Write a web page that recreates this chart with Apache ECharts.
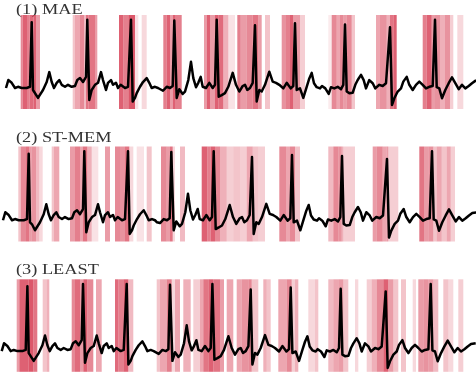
<!DOCTYPE html>
<html>
<head>
<meta charset="utf-8">
<script src="https://cdn.jsdelivr.net/npm/echarts@6/dist/echarts.min.js"></script>
<style>html,body{margin:0;padding:0;background:#fff}#c{width:476px;height:377px}</style>
</head>
<body>
<div id="c"></div>
<script>
// ECG trace (time in samples, amplitude in mV)
const ecgTime = [6,8.3,11.7,15,18,21.7,26.7,30,31.7,33,35,38,40,43,46.7,49.3,51.7,54,56.7,59.3,61.7,65,68,71.7,75,77.3,80,83,86,87.3,89.3,91.7,95,98,101,103,106,108,111,113,116,118,120.7,125,128,131,132.7,135,136.7,140,143,146.7,149.3,151.7,155,158,160,163,166.7,170,172.7,174.3,176.7,179.3,182.7,185,188.3,191,193.3,196,198.3,200.7,202.7,206,209.3,212.7,215,216.7,218.7,221.7,225,228.3,232.7,236,239.3,242.7,245,247.3,250,252.7,255,256.7,259.3,261.7,265,269.3,272.7,276,279.3,283.3,286.7,290.7,293.3,295,296.7,300,303.3,306.7,309.3,311.7,314,316.7,320,322,325.3,328.7,331,334.3,337.7,341,343.3,345,346.7,349.3,352.7,355.3,357.7,361,363.7,366,369.3,372.7,375.3,379.3,382.7,386,387.7,390,392,394.3,397.7,401,403.3,406.7,409.3,412.7,416,419.3,422.7,426,429.3,432.7,435,436.7,439.3,442,445.3,448.7,452,455.3,458.7,462,465.3,468.7,472,475.3,480];
const ecgMv = [0,0.2,0.13,0,0.03,0,0,0.03,1.66,-0.05,-0.1,-0.25,-0.23,-0.05,0.15,0.4,0.15,0,0.13,0.2,0.08,0.03,0.08,0.03,0.05,0.2,0.25,0.15,0.28,1.72,-0.3,-0.05,0.08,0.13,0.4,0.2,-0.05,0.13,0.2,0.08,0.13,0,0.08,0,0.03,1.72,-0.34,-0.25,-0.13,0.03,0.15,0.25,0.13,0,0.03,0,-0.05,-0.07,0.03,0,0.05,1.7,-0.25,-0.03,-0.15,-0.09,0.2,0.66,0.25,0.02,0.13,0.28,0.03,0,0.13,0,0.08,1.72,-0.22,-0.18,-0.13,0.03,0.38,0.08,-0.09,0.05,0.08,-0.05,0,0.13,1.58,-0.34,-0.05,-0.09,0.08,0.41,0.16,0.13,0.08,-0.01,0.13,-0.01,0.05,1.63,-0.05,-0.01,-0.25,0.03,0.24,0.38,0.12,0.02,-0.01,0.05,-0.01,-0.15,0.02,-0.01,0.03,-0.03,0.08,1.6,-0.09,-0.13,-0.12,0.08,0.2,0.33,0.2,-0.01,0.2,0.12,-0.01,0.08,0.05,0.12,0.16,1.53,-0.43,-0.26,-0.09,-0.01,0.16,0.28,0.08,-0.05,0.08,0.16,0.08,-0.01,0.03,0.05,1.72,0.02,-0.01,-0.26,-0.05,0.12,0.27,0.12,-0.03,0.08,-0.01,0.05,0.12,0.18,0.2];

// attention strips: [start, end, weight]
const attnMAE = [[20.7,22.7,0.6],[22.7,27,0.8],[27,29.5,0.65],[29.5,33.5,0.75],[33.5,36,0.8],[36,40,0.5],
[72.7,75,0.3],[75,80,0.45],[80,84,0.6],[84,86,0.35],[86,88.5,0.7],[88.5,95,0.7],[95,97.3,0.5],
[119,123.3,0.8],[123.3,128.3,0.65],[128.3,135,0.85],[135,138.3,0.15],[141.7,146.7,0.2],
[163.3,166.7,0.65],[166.7,170,0.8],[170,172.7,0.5],[172.7,175,0.8],[175,181.7,0.65],
[204,206.7,0.5],[206.7,210,0.8],[210,215,0.5],[215,218.3,0.8],[218.3,223.3,0.75],[223.3,228.3,0.4],[228.3,235,0.15],
[237.3,240.7,0.65],[240.7,246.7,0.5],[246.7,252.7,0.6],[252.7,258.3,0.7],[258.3,261.7,0.5],[265,270,0.3],
[281.7,286,0.55],[286,290,0.65],[290,293.3,0.8],[293.3,300,0.5],[300,305,0.25],
[328.3,331.7,0.1],[331.7,336.7,0.6],[336.7,340,0.45],[340,343.3,0.6],[343.3,346.7,0.5],[346.7,351.7,0.6],[351.7,355,0.3],
[376,380,0.45],[380,386.7,0.55],[386.7,390,0.4],[390,393.3,0.7],[393.3,396.7,0.8],
[422.7,426.7,0.65],[426.7,431.7,0.8],[431.7,435,0.5],[435,440,0.55],[440,445,0.4],[445,450,0.55],[450,453.3,0.25],[457.3,463.3,0.2]];
const attnSTMEM = [[18.3,20.7,0.3],[20.7,26,0.6],[26,29.3,0.7],[29.3,31.7,0.5],[31.7,36,0.55],[36,39.3,0.35],[39.3,42.7,0.2],
[51.7,54,0.3],[54,59.3,0.45],
[70,75,0.5],[75,80,0.65],[80,82.7,0.45],[82.7,87.3,0.7],[87.3,91.7,0.4],[91.7,98.3,0.15],
[105,110,0.5],
[115,120,0.6],[120,125,0.55],[125,129.3,0.7],[129.3,133.3,0.2],[136.7,144,0.15],[146.7,151.7,0.3],
[161,166.7,0.6],[166.7,170,0.5],[170,172.7,0.7],[172.7,175,0.2],[180,185,0.35],
[201.7,207.3,0.8],[207.3,210.7,0.65],[210.7,215,0.8],[215,220,0.6],[220,226.7,0.4],[226.7,233.3,0.25],[233.3,240,0.3],[240,246.7,0.25],[246.7,252.7,0.45],[252.7,258.3,0.3],[258.3,265,0.25],
[279.3,286,0.6],[286,290,0.45],[290,295,0.6],[295,300,0.3],
[328.3,333.3,0.35],[333.3,338.3,0.6],[338.3,341.7,0.55],[341.7,343.3,0.4],[343.3,355,0.25],
[372.7,376.7,0.5],[376.7,382.7,0.6],[382.7,386.7,0.45],[386.7,388.3,0.5],[388.3,398.3,0.25],
[419.3,424,0.7],[424,428.3,0.5],[428.3,433.3,0.55],[433.3,436.7,0.3],[436.7,441.7,0.45],[441.7,446.7,0.3],[446.7,450.7,0.45],[450.7,455,0.25]];
const attnLEAST = [[16.7,19.3,0.5],[19.3,25,0.8],[25,28.3,0.8],[28.3,33.3,0.85],[33.3,37.3,0.7],[42.7,46.7,0.3],[46.7,49.3,0.4],
[71.7,75,0.6],[75,80,0.75],[80,83.3,0.5],[83.3,87.3,0.8],[87.3,93.3,0.6],[96,101.7,0.45],
[115,118.3,0.75],[118.3,123.3,0.65],[123.3,128.3,0.8],[128.3,133.3,0.35],
[156.7,160,0.3],[160,166.7,0.45],[166.7,171.7,0.65],[171.7,175,0.2],[175,180,0.45],[183.3,190.7,0.4],
[193.3,200,0.25],[200,203.3,0.45],[203.3,208.3,0.7],[208.3,213.3,0.8],[213.3,220,0.7],[220,224,0.5],[226.7,233.3,0.45],
[236.7,241.7,0.45],[241.7,248.3,0.55],[248.3,251.7,0.6],[251.7,258.3,0.3],
[263.3,266.7,0.4],[266.7,270.7,0.3],
[278.3,286.7,0.45],[286.7,291.7,0.6],[291.7,295,0.25],[295,298.3,0.4],
[308.3,315,0.2],[315,318.3,0.3],
[328.3,333.3,0.35],[333.3,338.3,0.45],[338.3,343.3,0.5],[343.3,348.3,0.3],
[355,358.3,0.2],[366.7,371.7,0.25],[371.7,376.7,0.4],[376.7,383.3,0.6],[383.3,388.3,0.8],[388.3,393.3,0.5],[393.3,398.3,0.3],
[401,406,0.3],[412.7,416,0.2],[418.3,423.3,0.5],[423.3,428.3,0.55],[428.3,433.3,0.5],[433.3,438.3,0.35],[443.3,448.3,0.3],[448.3,453.3,0.2],[458.3,463.3,0.25]];

// stretches of the trace drawn in dark red (in trace time)
const darkMAE = [];
const darkSTMEM = [[54, 63], [149, 156]];
const darkLEAST = [[45, 53], [86, 89], [99, 106], [130, 133], [164, 171], [187, 195], [230, 238], [267, 275], [310, 321], [405, 411]];

const panelTitles = ['(1) MAE', '(2) ST-MEM', '(3) LEAST'];
const panelAttn = [attnMAE, attnSTMEM, attnLEAST];
const panelDark = [darkMAE, darkSTMEM, darkLEAST];

// layout
const gridTops = [15, 146.5, 279.3];
const gridHeights = [94, 95, 92.5];
const titleTops = [2.5, 131, 262.5];
const lineShift = [0, 3, 4.3];
const Y_MIN = -0.53, Y_MAX = 1.84;

const chart = echarts.init(document.getElementById('c'), null, {renderer: 'canvas'});
const grids = [], xAxes = [], yAxes = [], series = [], graphics = [], visualMaps = [];
const ecgData = ecgTime.map((t, i) => [t, ecgMv[i]]);

for (let k = 0; k < 3; k++) {
  grids.push({left: 0, right: 0, top: gridTops[k], height: gridHeights[k]});
  xAxes.push({type: 'value', gridIndex: k, min: 0, max: 476, show: false});
  xAxes.push({type: 'value', gridIndex: k, min: lineShift[k], max: 476 + lineShift[k], show: false});
  yAxes.push({type: 'value', gridIndex: k, min: Y_MIN, max: Y_MAX, show: false});
  series.push({
    type: 'custom', xAxisIndex: 2 * k, yAxisIndex: k, silent: true, z: 1,
    data: panelAttn[k],
    encode: {x: [0, 1]},
    renderItem: function (params, api) {
      const p0 = api.coord([api.value(0), Y_MAX]);
      const p1 = api.coord([api.value(1), Y_MIN]);
      const w = api.value(2);
      return {
        type: 'rect',
        shape: {x: p0[0], y: p0[1], width: p1[0] - p0[0], height: p1[1] - p0[1]},
        style: {fill: 'rgba(214,58,80,' + w + ')'}
      };
    }
  });
  const lineIdx = series.length;
  series.push({
    type: 'line', xAxisIndex: 2 * k + 1, yAxisIndex: k, z: 3, silent: true,
    data: ecgData, symbol: 'none', clip: true,
    lineStyle: {color: '#000', width: 2.5, join: 'round'}
  });
  if (panelDark[k].length) {
    visualMaps.push({
      type: 'piecewise', show: false, seriesIndex: lineIdx, dimension: 0,
      pieces: panelDark[k].map(r => ({gte: r[0], lte: r[1], color: '#6a1c24'})),
      outOfRange: {color: '#000'}
    });
  }
  graphics.push({
    type: 'text', x: 16, y: titleTops[k], scaleX: 1.22, scaleY: 1,
    style: {text: panelTitles[k], x: 0, y: 0, fill: '#333', font: '15px "Liberation Serif", serif', verticalAlign: 'top', align: 'left'}
  });
}

chart.setOption({
  animation: false,
  backgroundColor: '#fff',
  grid: grids, xAxis: xAxes, yAxis: yAxes, series: series,
  visualMap: visualMaps,
  graphic: graphics
});
</script>
</body>
</html>
